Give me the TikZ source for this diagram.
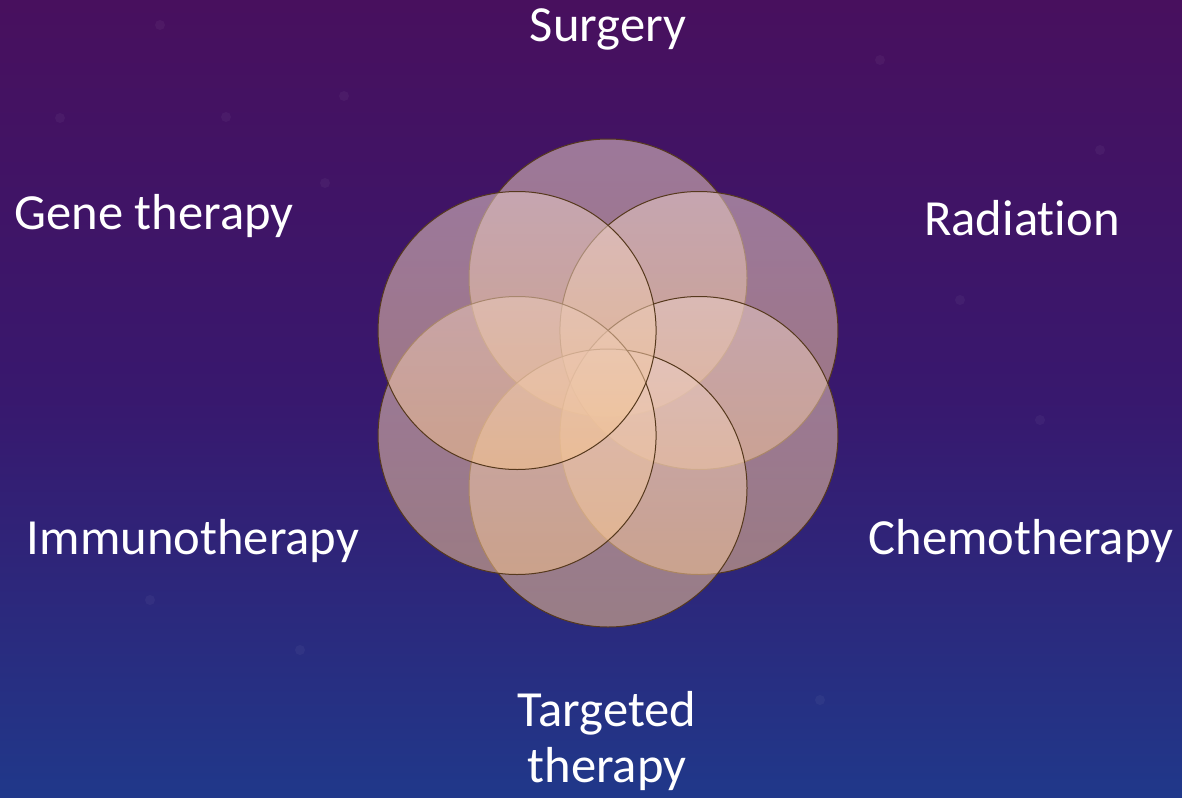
\documentclass[tikz,border=0pt]{standalone}
\usepackage{fontspec}
\setmainfont{Carlito}[RawFeature=-liga]
\usetikzlibrary{calc}
\begin{document}
\begin{tikzpicture}[x=0.5pt,y=-0.5pt,
  petal/.style={draw=black!55!brown, line width=0.5pt, fill opacity=0.55,
    top color=petaltop, bottom color=petalbot},
  lbl/.style={text=white, font=\fontsize{25.3}{30}\selectfont, inner sep=0pt},
  speck/.style={fill=white, opacity=0.04}]
\definecolor{bgtop}{HTML}{48105E}
\definecolor{bgmid}{HTML}{38186E}
\definecolor{bgbot}{HTML}{20388A}
\definecolor{petaltop}{HTML}{E8CCC8}
\definecolor{petalbot}{HTML}{F5C28C}
% background
\shade[top color=bgtop, bottom color=bgbot, middle color=bgmid] (0,0) rectangle (1182,797);
\useasboundingbox (0,0) rectangle (1182,797);
% faint specks
\foreach \p in {(160,25),(226,117),(344,96),(325,183),(60,118),(1100,150),(880,60),(1040,420),(300,650),(820,700),(150,600),(960,300)}
  \fill[speck] \p circle (5);
% six overlapping circles
\coordinate (c) at (608,383);
\foreach \n/\a in {s/90,r/30,ch/-30,t/-90,i/210,g/150}
  \path[petal] ($(c)+(\a:105 and -105)$) circle (139);
% labels
\node[lbl] (surgery) at (608,29) {Surgery};
\node[lbl] (gene) at (154,216) {Gene therapy};
\node[lbl] (rad) at (1022,218) {Radiation};
\node[lbl] (immuno) at (193,541) {Immunotherapy};
\node[lbl] (chemo) at (1021,541) {Chemotherapy};
\node[lbl, align=center, font=\fontsize{25.3}{28}\selectfont] (target) at (607,741) {Targeted\\therapy};
\end{tikzpicture}
\end{document}
